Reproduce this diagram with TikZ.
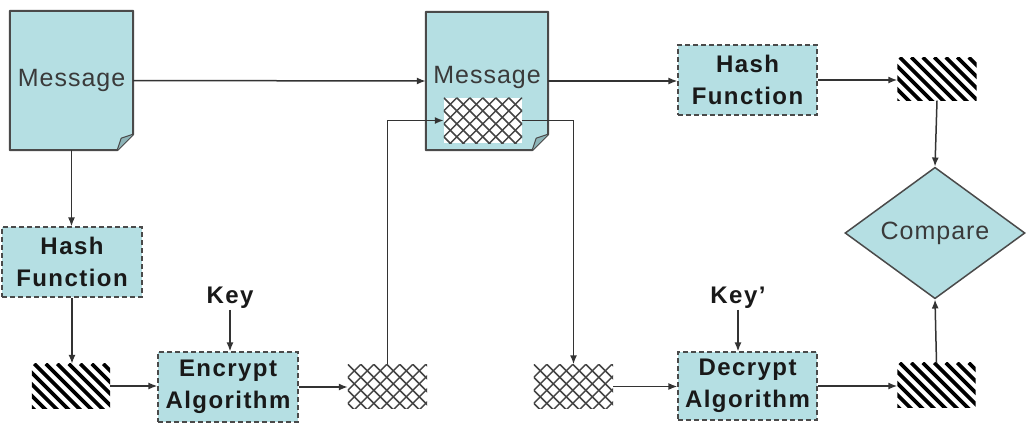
\documentclass[tikz,border=0pt]{standalone}
\usepackage{fontspec}
\setmainfont{Liberation Sans}
\newfontfamily\boldls[LetterSpace=6.0]{Liberation Sans}
\newfontfamily\regls[LetterSpace=4.0]{Liberation Sans}
\usetikzlibrary{arrows.meta,shapes.geometric,calc}
\definecolor{boxfill}{HTML}{B5DFE3}
\definecolor{edgegray}{HTML}{4A4A4A}
\definecolor{foldfill}{HTML}{8DB4B8}
\definecolor{xgray}{HTML}{444444}
\definecolor{linegray}{HTML}{333333}
\definecolor{txtgray}{HTML}{3A3A3A}
\begin{document}
\begin{tikzpicture}[x=1pt,y=-1pt,
  docbox/.style={inner sep=0,minimum width=123pt,minimum height=139pt},
  proc/.style={draw=edgegray,fill=boxfill,line width=1.2pt,dash pattern=on 5pt off 3pt,
    inner sep=0,minimum width=140pt,minimum height=70pt,align=center,
    font=\boldls\bfseries\fontsize{24}{32}\selectfont,text=black!90},
  hatchbox/.style={inner sep=0,minimum width=78pt,minimum height=44pt},
  crossbox/.style={inner sep=0,minimum width=79pt,minimum height=44pt,fill=white},
  lbl/.style={font=\regls\fontsize{25}{30}\selectfont,text=txtgray,inner sep=0},
  keylbl/.style={font=\boldls\bfseries\fontsize{24}{30}\selectfont,text=black!90,inner sep=1pt},
  conn/.style={draw=linegray,line width=1.5pt,-{Latex[length=9pt,width=7pt]}}]
\useasboundingbox[fill=white] (0,0) rectangle (1026,432);

% documents
\node[docbox] (msg1) at (71.5,80.5) {};
\node[docbox,minimum width=122pt,minimum height=138pt] (msg2) at (487,81) {};
\foreach \d in {msg1,msg2}{
  \path[fill=boxfill,draw=edgegray,line width=2pt,line join=round]
    (\d.north west) -- (\d.north east) -- ($(\d.south east)+(0,-16)$)
    -- ($(\d.south east)+(-16,0)$) -- (\d.south west) -- cycle;
  \path[fill=foldfill,draw=edgegray,line width=1pt,line join=round]
    ($(\d.south east)+(0,-16)$) -- ($(\d.south east)+(-12,-12)$) -- ($(\d.south east)+(-16,0)$);
}
\node[lbl] (msg1txt) at (71.5,80) {Message};
\node[lbl] (msg2txt) at (487,77) {Message};

% process boxes
\node[proc] (hash1) at (72,262) {Hash\\Function};
\node[proc] (encrypt) at (228,387) {Encrypt\\Algorithm};
\node[proc,minimum width=139pt] (hash2) at (747.5,80) {Hash\\Function};
\node[proc,minimum width=139pt,minimum height=68pt] (decrypt) at (747.5,386) {Decrypt\\Algorithm};

% keys
\node[keylbl] (key) at (230,298) {Key};
\node[keylbl] (keyp) at (738,298) {Key’};

% hatched boxes
\node[hatchbox] (hatch1) at (71,386) {};
\node[hatchbox,minimum width=79pt,minimum height=43pt] (hatch2) at (937,79) {};
\node[hatchbox] (hatch3) at (936.5,385) {};
\foreach \h in {hatch1,hatch2,hatch3}{
  \begin{scope}
    \clip (\h.north west) rectangle (\h.south east);
    \foreach \i in {-55,-43.5,...,90}
      \draw[black,line width=3.6pt] ($(\h.north west)+(\i,0)$) -- ++(60,60);
  \end{scope}
}

% cross-hatched boxes
\node[crossbox] (xh1) at (387.5,386.5) {};
\node[crossbox] (xh2) at (573.5,386.5) {};
\node[crossbox,minimum width=78pt,minimum height=45pt] (xhin) at (483,120.5) {};
\foreach \h in {xh1,xh2,xhin}{
  \begin{scope}
    \clip (\h.north west) rectangle (\h.south east);
    \foreach \i in {-52,-39,...,135}{
      \draw[xgray,line width=1.5pt] ($(\h.north west)+(\i,0)$) -- ++(60,60);
      \draw[xgray,line width=1.5pt] ($(\h.north west)+(\i,0)$) -- ++(-60,60);
    }
  \end{scope}
}

% compare diamond
\node[diamond,draw=edgegray,fill=boxfill,line width=1.5pt,inner sep=0,
  minimum width=180pt,minimum height=130pt,
  font=\regls\fontsize{25}{30}\selectfont,text=txtgray] (cmp) at (935,233) {Compare};

% connectors
\draw[conn] (msg1.east) -- (msg2.west);
\draw[conn] (msg1.south) -- (msg1.south |- hash1.north);
\draw[conn] (hash1.south) -- (hash1.south |- hatch1.north);
\draw[conn] (hatch1.east) -- (hatch1.east -| encrypt.west);
\draw[conn] (key.south) -- (key.south |- encrypt.north);
\draw[conn] (encrypt.east) -- (encrypt.east -| xh1.west);
\draw[conn] (xh1.north) |- (xhin.west);
\draw[conn] (xhin.east) -| (xh2.north);
\draw[conn] (xh2.east) -- (xh2.east -| decrypt.west);
\draw[conn] (keyp.south) -- (keyp.south |- decrypt.north);
\draw[conn] (decrypt.east) -- (decrypt.east -| hatch3.west);
\draw[conn] (hatch3.north) -- (cmp.south);
\draw[conn] (msg2.east) -- (msg2.east -| hash2.west);
\draw[conn] (hash2.east) -- (hash2.east -| hatch2.west);
\draw[conn] (hatch2.south) -- (cmp.north);
\end{tikzpicture}
\end{document}
